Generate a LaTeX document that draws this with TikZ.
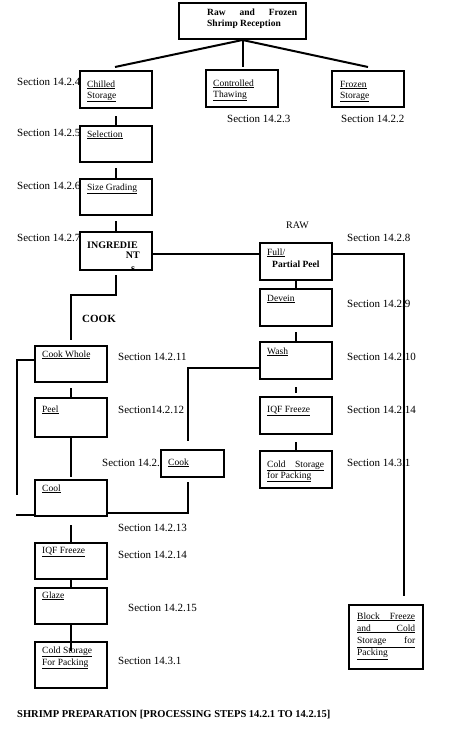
\documentclass[tikz,border=0pt]{standalone}
\usepackage{fontspec}
\setmainfont{Liberation Serif}
\usetikzlibrary{calc}
\newcommand\myfsec{\fontsize{11}{13}\selectfont}
\newcommand\myfbox{\fontsize{9.5}{11}\selectfont}
\newcommand\myjust[2]{\hbox to #1{#2}}
\begin{document}
\begin{tikzpicture}[x=1pt,y=-1pt,
  box/.style={draw, fill=white, line width=2pt, inner sep=0pt},
  conn/.style={line width=2pt},
  bt/.style={anchor=base west, inner sep=0pt, font=\myfbox},
  sec/.style={anchor=base west, inner sep=0pt, font=\myfsec}]
\useasboundingbox[fill=white] (0,0) rectangle (454,752);

% section labels (drawn first, boxes overlap them)
\node[sec] (s4) at (17,85.5) {Section 14.2.4};
\node[sec] (s5) at (17,136.5) {Section 14.2.5};
\node[sec] (s6) at (17,189.5) {Section 14.2.6};
\node[sec] (s7) at (17,241.5) {Section 14.2.7};
\node[sec] (s3) at (227,122.5) {Section 14.2.3};
\node[sec] (s2) at (341,122.5) {Section 14.2.2};
\node[sec, font=\fontsize{10}{12}\selectfont] (raw) at (286,228.5) {RAW};
\node[sec] (s8) at (347,241.5) {Section 14.2.8};
\node[sec] (s9) at (347,307.5) {Section 14.2.9};
\node[sec, font=\fontsize{11}{13}\selectfont\bfseries] (cooklbl) at (82,322) {COOK};
\node[sec] (s10) at (347,360.5) {Section 14.2.10};
\node[sec] (s11) at (118,360.5) {Section 14.2.11};
\node[sec] (s12) at (118,413.5) {Section14.2.12};
\node[sec] (s14r) at (347,413.5) {Section 14.2.14};
\node[sec] (scook) at (102,466.5) {Section 14.2.};
\node[sec] (s31r) at (347,466.5) {Section 14.3.1};
\node[sec] (s13) at (118,531.5) {Section 14.2.13};
\node[sec] (s14l) at (118,558.5) {Section 14.2.14};
\node[sec] (s15) at (128,611.5) {Section 14.2.15};
\node[sec] (s31l) at (118,664.5) {Section 14.3.1};
\node[sec, font=\fontsize{10.5}{12}\selectfont\bfseries] (cap) at (17,717.5) {SHRIMP PREPARATION [PROCESSING STEPS 14.2.1 TO 14.2.15]};

% boxes
\node[box, minimum width=127pt, minimum height=36pt] (top) at (242.5,21) {};
\node[box, minimum width=72pt, minimum height=37pt] (chill) at (116,89.5) {};
\node[box, minimum width=72pt, minimum height=37pt] (thaw) at (242,88.5) {};
\node[box, minimum width=72pt, minimum height=36pt] (frozen) at (368,89) {};
\node[box, minimum width=72pt, minimum height=36pt] (sel) at (116,144) {};
\node[box, minimum width=72pt, minimum height=36pt] (size) at (116,197) {};
\node[box, minimum width=72pt, minimum height=38pt] (ingr) at (116,251) {};
\node[box, minimum width=72pt, minimum height=37pt] (fpeel) at (296,261.5) {};
\node[box, minimum width=72pt, minimum height=37pt] (devein) at (296,307.5) {};
\node[box, minimum width=72pt, minimum height=37pt] (wash) at (296,360.5) {};
\node[box, minimum width=72pt, minimum height=37pt] (iqfr) at (296,415.5) {};
\node[box, minimum width=72pt, minimum height=37pt] (coldr) at (296,469.5) {};
\node[box, minimum width=72pt, minimum height=36pt] (cookw) at (71,364) {};
\node[box, minimum width=72pt, minimum height=39pt] (peel) at (71,417.5) {};
\node[box, minimum width=63pt, minimum height=27pt] (cook) at (192.5,463.5) {};
\node[box, minimum width=72pt, minimum height=36pt] (cool) at (71,498) {};
\node[box, minimum width=72pt, minimum height=36pt] (iqfl) at (71,561) {};
\node[box, minimum width=72pt, minimum height=36pt] (glaze) at (71,606) {};
\node[box, minimum width=72pt, minimum height=46pt] (coldl) at (71,665) {};
\node[box, minimum width=74pt, minimum height=64pt] (block) at (386,637) {};

% box texts
\node[bt, font=\myfbox\bfseries] (t1) at (207,16) {\myjust{90pt}{Raw\hfill and\hfill Frozen}};
\node[bt, font=\myfbox\bfseries] (t2) at (207,27) {Shrimp Reception};
\node[bt] (c1) at (87,87) {\underline{Chilled}};
\node[bt] (c2) at (87,98) {\underline{Storage}};
\node[bt] (th1) at (213,86) {\underline{Controlled}};
\node[bt] (th2) at (213,97) {\underline{Thawing}};
\node[bt] (f1) at (340,87) {\underline{Frozen}};
\node[bt] (f2) at (340,98) {\underline{Storage}};
\node[bt] (selt) at (87,137) {\underline{Selection}};
\node[bt] (sizet) at (87,190) {\underline{Size Grading}};
\node[bt, font=\fontsize{10}{12}\selectfont\bfseries] (in1) at (87,248) {INGREDIE};
\node[bt, font=\fontsize{10}{12}\selectfont\bfseries, anchor=base east] (in2) at (140,258) {NT};
\begin{scope}
\clip (ingr.north west) rectangle ($(ingr.south east)+(0,-1)$);
\node[bt, font=\fontsize{10}{12}\selectfont\bfseries] (in3) at (131,271) {s};
\end{scope}
\node[bt] (fp1) at (267,255) {\underline{Full/}};
\node[bt, font=\myfbox\bfseries] (fp2) at (272,267) {Partial Peel};
\node[bt] (dvt) at (267,301) {\underline{Devein}};
\node[bt] (wst) at (267,354) {\underline{Wash}};
\node[bt] (iqrt) at (267,412) {\underline{IQF Freeze}};
\node[bt] (cr1) at (267,467) {\underline{\myjust{57pt}{Cold\hfill Storage}}};
\node[bt] (cr2) at (267,478) {\underline{for Packing}};
\node[bt] (cwt) at (42,357) {\underline{Cook Whole}};
\node[bt] (peelt) at (42,412) {\underline{Peel}};
\node[bt] (cookt) at (168,465) {\underline{Cook}};
\node[bt] (coolt) at (42,491) {\underline{Cool}};
\node[bt] (iqlt) at (42,553) {\underline{IQF Freeze}};
\node[bt] (glt) at (42,598) {\underline{Glaze}};
\node[bt] (cl1) at (42,653) {\underline{Cold Storage}};
\node[bt] (cl2) at (42,665) {\underline{For Packing}};
\node[bt] (b1) at (357,619) {\underline{\myjust{58pt}{Block\hfill Freeze}}};
\node[bt] (b2) at (357,631) {\underline{\myjust{58pt}{and\hfill Cold}}};
\node[bt] (b3) at (357,643.5) {\underline{\myjust{58pt}{Storage\hfill for}}};
\node[bt] (b4) at (357,655.5) {\underline{Packing}};

% free ends
\coordinate (e1) at (115,67);
\coordinate (e2) at (242.5,67);
\coordinate (e3) at (368,67);
\coordinate (e4) at (404,596);
\coordinate (e5) at (71,340);
\coordinate (e6) at (17,495);
\coordinate (e7) at (188,441);
\coordinate (e8) at (188,482);
\coordinate (e9) at (16,515);

% connectors
\draw[conn] (top.south) -- (e1);
\draw[conn] (top.south) -- (e2);
\draw[conn] (top.south) -- (e3);
\draw[conn] ($(chill.south)+(0,7)$) -- (sel.north);
\draw[conn] ($(sel.south)+(0,5)$) -- (size.north);
\draw[conn] ($(size.south)+(0,5)$) -- (ingr.north);
\draw[conn] ($(ingr.east)+(0,3)$) -- ($(fpeel.west)+(0,-7.5)$);
\draw[conn] ($(fpeel.east)+(0,-7.5)$) -| (e4);
\draw[conn] ($(ingr.south)+(0,4)$) -- ++(0,20) -| (e5);
\draw[conn] (fpeel.south) -- (devein.north);
\draw[conn] ($(devein.south)+(0,5)$) -- (wash.north);
\draw[conn] ($(wash.south)+(0,7)$) -- ($(iqfr.north)+(0,-3)$);
\draw[conn] ($(iqfr.south)+(0,7)$) -- (coldr.north);
\draw[conn] ($(cookw.west)+(0,-4)$) -| (e6);
\draw[conn] ($(cookw.south)+(0,5)$) -- (peel.north);
\draw[conn] (peel.south) -- ($(cool.north)+(0,-2)$);
\draw[conn] ($(wash.west)+(0,7.5)$) -| (e7);
\draw[conn] (e8) |- ($(cool.east)+(0,15)$);
\draw[conn] (e9) -- ($(cool.west)+(0,17)$);
\draw[conn] ($(cool.south)+(0,8)$) -- (iqfl.north);
\draw[conn] (iqfl.south) -- (glaze.north);
\draw[conn] (glaze.south) -- ($(coldl.north)+(0,10)$);
\end{tikzpicture}
\end{document}
